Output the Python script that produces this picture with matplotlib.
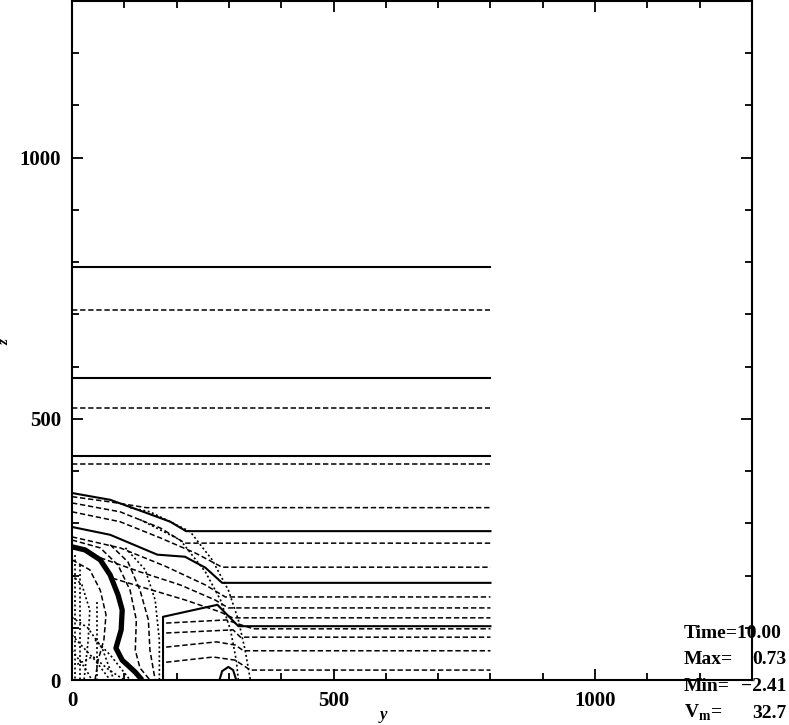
# coding: utf-8
"""Vertical cross-section of a rising thermal at t = 10 — contour sketch.

Contours are traced off the original plot, not recomputed from a field.
"""

import matplotlib.pyplot as plt
from matplotlib.ticker import MultipleLocator

plt.rcParams["font.family"] = ["Liberation Serif", "DejaVu Serif"]
plt.rcParams["mathtext.fontset"] = "custom"
plt.rcParams["mathtext.rm"] = "Liberation Serif:bold"

# ---- data ---------------------------------------------------------------
# levels that stay flat over the whole domain (y = 0 .. 800)
flat_z = [791, 709, 579, 521, 429, 414]
flat_solid = [True, False, True, False, True, False]
Y_END = 800

# curved contours, (y, z) pairs
a_y = [0, 73, 142, 188, 218, 800];          a_z = [358, 345, 320, 303, 285, 285]
b_y = [0, 73, 142, 800];                    b_z = [351, 341, 330, 330]
c_y = [0, 92, 169, 216, 800];               c_z = [339, 322, 291, 262, 262]
d_y = [0, 92, 169, 236, 287, 800];          d_z = [322, 303, 272, 243, 216, 216]
e_y = [0, 73, 163, 216, 255, 287, 800];     e_z = [293, 278, 240, 236, 215, 186, 186]
f_y = [0, 92, 178, 255, 293, 800];          f_z = [274, 253, 218, 182, 159, 159]
g_y = [54, 130, 207, 274, 299, 800];        g_z = [234, 207, 182, 153, 138, 138]
h_y = [77, 140, 217, 284, 307, 800];        h_z = [195, 176, 153, 130, 119, 119]
i_y = [174, 174, 278, 318, 800];            i_z = [0, 121, 144, 103, 103]
j_y = [180, 295, 331, 347, 800];            j_z = [109, 115, 103, 98, 98]
k_y = [180, 308, 322, 800];                 k_z = [90, 96, 82, 82]
l_y = [180, 276, 312, 328, 800];            l_z = [63, 73, 67, 56, 56]
m_y = [180, 270, 312, 341, 800];            m_z = [34, 44, 38, 19, 19]
dome_y = [282, 287, 299, 308, 314];         dome_z = [0, 17, 25, 19, 0]

# vortex ring (thick) and the lines hugging it
ring_y = [0, 25, 54, 73, 88, 96, 94, 84, 96, 121, 134]
ring_z = [255, 249, 230, 201, 163, 134, 96, 61, 38, 15, 0]
o1_y = [0, 54, 88, 111, 123, 121, 130, 149];  o1_z = [268, 253, 220, 172, 115, 57, 23, 0]
o2_y = [73, 107, 130, 146, 149, 159];         o2_z = [259, 226, 172, 115, 57, 0]
o3_y = [102, 140, 159, 167, 167];             o3_z = [253, 211, 153, 77, 0]
i1_y = [0, 34, 54, 65, 61, 50, 44];           i1_z = [230, 211, 172, 125, 77, 38, 0]
i2_y = [0, 19, 34, 31, 23];                   i2_z = [201, 182, 134, 77, 0]
v1_y = [15, 15];                              v1_z = [220, 0]
v2_y = [48, 48];                              v2_z = [150, 0]
v3_y = [6, 6];                                v3_z = [240, 0]
dm1_y = [0, 44, 73];                          dm1_z = [86, 38, 0]
dm2_y = [0, 25, 38];                          dm2_z = [57, 23, 0]
dm3_y = [44, 73, 111];                        dm3_z = [77, 48, 0]
dm4_y = [0, 30, 58, 80];                      dm4_z = [120, 100, 60, 0]
dm5_y = [10, 40, 70, 100];                    dm5_z = [30, 45, 20, 0]

# the ragged front where the flat levels break
fr1_y = [111, 149, 226, 268, 299, 318, 331, 341]
fr1_z = [330, 322, 284, 230, 172, 115, 57, 0]
fr2_y = [130, 207, 255, 284, 303, 314, 318]
fr2_z = [307, 268, 207, 153, 96, 38, 0]

stats_names = ["Time=10.00", "Max=", "Min=", "V$_\\mathrm{m}$="]
stats_values = ["", "0.73", "\u22122.41", "32.7"]

solid = [(a_y, a_z), (e_y, e_z), (i_y, i_z), (dome_y, dome_z)]
dashed = [(b_y, b_z), (c_y, c_z), (d_y, d_z), (f_y, f_z), (g_y, g_z),
          (h_y, h_z), (j_y, j_z), (k_y, k_z), (l_y, l_z), (m_y, m_z),
          (o1_y, o1_z), (o2_y, o2_z), (i1_y, i1_z)]
dotted = [(o3_y, o3_z), (i2_y, i2_z), (v1_y, v1_z), (v2_y, v2_z),
          (v3_y, v3_z), (dm1_y, dm1_z), (dm2_y, dm2_z), (dm3_y, dm3_z),
          (dm4_y, dm4_z), (dm5_y, dm5_z), (fr1_y, fr1_z), (fr2_y, fr2_z)]

# ---- plot ---------------------------------------------------------------
fig = plt.figure(figsize=(7.89, 7.25), dpi=100)
ax = fig.add_axes([72 / 789, 45 / 725, 680 / 789, 679 / 725])

DASH = (0, (3.5, 1.8))
for z, is_solid in zip(flat_z, flat_solid):
    ax.plot([0, Y_END], [z, z], color="k", lw=1.5 if is_solid else 1.1,
            ls="-" if is_solid else DASH)
for yy, zz in solid:
    ax.plot(yy, zz, color="k", lw=1.5)
for yy, zz in dashed:
    ax.plot(yy, zz, color="k", lw=1.1, ls=DASH)
for yy, zz in dotted:
    ax.plot(yy, zz, color="k", lw=1.2, ls=(0, (1.2, 1.5)))
ax.plot(ring_y, ring_z, color="k", lw=3.8, solid_capstyle="butt")

ax.set_xlim(0, 1300);  ax.set_ylim(0, 1300)
ax.set_xticks([0, 500, 1000]);  ax.set_yticks([0, 500, 1000])
ax.xaxis.set_minor_locator(MultipleLocator(100))
ax.yaxis.set_minor_locator(MultipleLocator(100))
ax.tick_params(which="both", direction="in", top=True, right=True,
               width=1.3, labelsize=15, pad=8)
ax.tick_params(which="major", length=8)
ax.tick_params(which="minor", length=5)
for lab in ax.get_xticklabels() + ax.get_yticklabels():
    lab.set_fontweight("bold")
for sp in ax.spines.values():
    sp.set_linewidth(1.5)

fig.text(383 / 789, 1 - 723 / 725, "y", style="italic", fontsize=12,
         fontweight="bold", ha="center", va="bottom")
fig.text(5 / 789, 1 - 342 / 725, "z", style="italic", fontsize=11,
         fontweight="bold", rotation=90, ha="center", va="center")

for n, (name, val) in enumerate(zip(stats_names, stats_values)):
    yb = 1 - (638 + 26.5 * n) / 725
    fig.text(684 / 789, yb, name, fontsize=14, fontweight="bold", va="baseline")
    if val:
        fig.text(786 / 789, yb, val, fontsize=14, fontweight="bold",
                 va="baseline", ha="right")

fig.savefig("out.png", dpi=100)
